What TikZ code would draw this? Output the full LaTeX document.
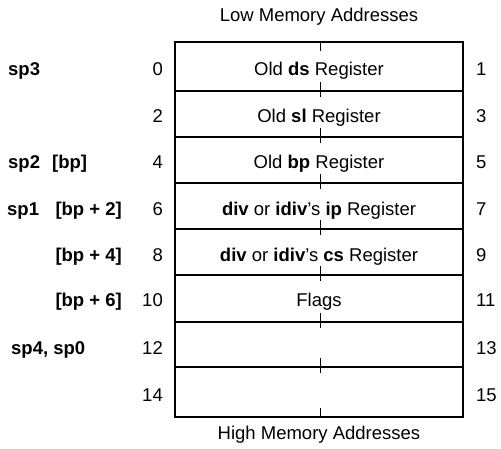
\documentclass[tikz,border=0pt]{standalone}
\usepackage{fontspec}
\setmainfont{Liberation Sans}
\begin{document}
\begin{tikzpicture}[x=1pt,y=-1pt,
  lbl/.style={font=\fontsize{18.5}{22}\selectfont, inner sep=0pt, text height=13.3pt, text depth=3.9pt},
  bl/.style={lbl, font=\fontsize{18.5}{22}\selectfont\bfseries},
  outer/.style={line width=2.4pt},
  divider/.style={line width=2pt},
  tick/.style={line width=0.9pt}]
\useasboundingbox (0,0) rectangle (501,448);
% box
\draw[outer] (175,42) rectangle (463,417);
\foreach \y in {91,137,183,229,275,322,367}{
  \draw[divider] (175,\y) -- (463,\y);
  \draw[tick] (320,\y-9) -- (320,\y+6);
}
\draw[tick] (320,42) -- (320,51);
\draw[tick] (320,408) -- (320,417);
% titles
\node[lbl] (low) at (319,17) {Low Memory Addresses};
\node[lbl] (high) at (319,434.5) {High Memory Addresses};
% cell texts
\node[lbl] (c0) at (319,71) {Old \textbf{ds} Register};
\node[lbl] (c2) at (319,118) {Old \textbf{sl} Register};
\node[lbl] (c4) at (319,164) {Old \textbf{bp} Register};
\node[lbl] (c6) at (319,210.5) {\textbf{div} or \textbf{idiv}'s \textbf{ip} Register};
\node[lbl] (c8) at (319,256.5) {\textbf{div} or \textbf{idiv}'s \textbf{cs} Register};
\node[lbl] (c10) at (319,302) {Flags};
% left numbers
\node[lbl,anchor=east] (n0) at (163,71) {0};
\node[lbl,anchor=east] (n2) at (163,118) {2};
\node[lbl,anchor=east] (n4) at (163,164) {4};
\node[lbl,anchor=east] (n6) at (163,210.5) {6};
\node[lbl,anchor=east] (n8) at (163,256.5) {8};
\node[lbl,anchor=east] (n10) at (163,302) {10};
\node[lbl,anchor=east] (n12) at (163,349.5) {12};
\node[lbl,anchor=east] (n14) at (163,396.5) {14};
% right numbers
\node[lbl,anchor=west] (m1) at (476,71) {1};
\node[lbl,anchor=west] (m3) at (476,118) {3};
\node[lbl,anchor=west] (m5) at (476,164) {5};
\node[lbl,anchor=west] (m7) at (476,210.5) {7};
\node[lbl,anchor=west] (m9) at (476,256.5) {9};
\node[lbl,anchor=west] (m11) at (476,302) {11};
\node[lbl,anchor=west] (m13) at (476,349.5) {13};
\node[lbl,anchor=west] (m15) at (476,396.5) {15};
% left labels
\node[bl,anchor=west] (sp3) at (8,71) {sp3};
\node[bl,anchor=west] (sp2) at (8,164) {sp2};
\node[bl,anchor=west] (bp0) at (52,164) {[bp]};
\node[bl,anchor=west] (sp1) at (7,210.5) {sp1};
\node[bl,anchor=east] (bp2) at (122,210.5) {[bp + 2]};
\node[bl,anchor=east] (bp4) at (122,256.5) {[bp + 4]};
\node[bl,anchor=east] (bp6) at (122,302) {[bp + 6]};
\node[bl,anchor=west] (sp4) at (11,349.5) {sp4, sp0};
\end{tikzpicture}
\end{document}
